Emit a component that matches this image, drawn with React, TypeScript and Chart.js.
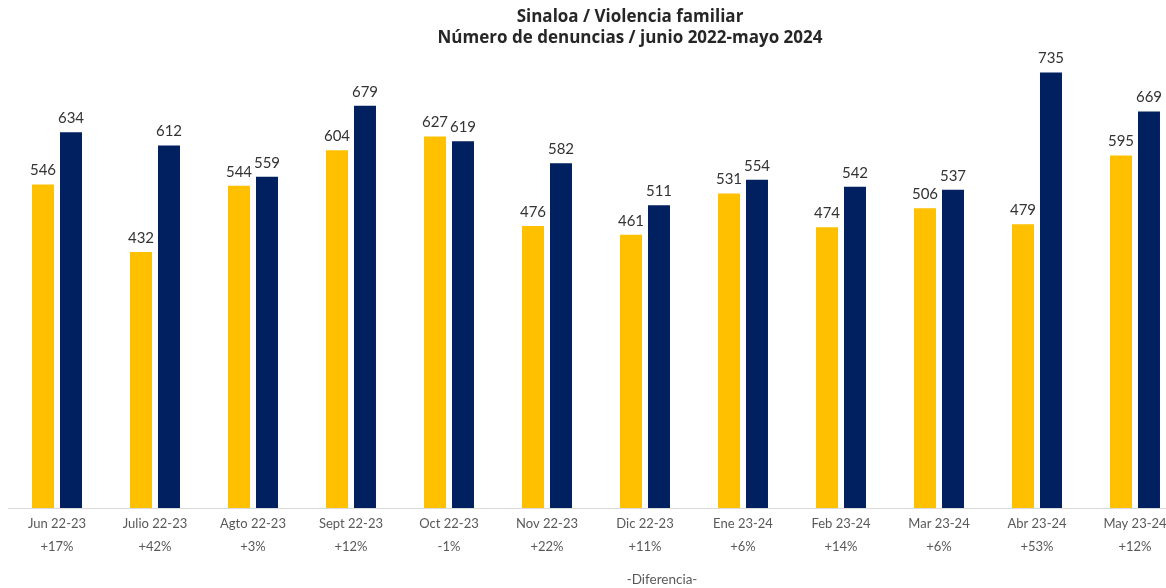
import React, { useEffect, useRef } from "react";
import { Chart, registerables } from "chart.js";

Chart.register(...registerables);

const categories = [
  "Jun 22-23", "Julio 22-23", "Agto 22-23", "Sept 22-23", "Oct 22-23", "Nov 22-23",
  "Dic 22-23", "Ene 23-24", "Feb 23-24", "Mar 23-24", "Abr 23-24", "May 23-24",
];
const series2223 = [546, 432, 544, 604, 627, 476, 461, 531, 474, 506, 479, 595];
const series2324 = [634, 612, 559, 679, 619, 582, 511, 554, 542, 537, 735, 669];
const differences = ["+17%", "+42%", "+3%", "+12%", "-1%", "+22%", "+11%", "+6%", "+14%", "+6%", "+53%", "+12%"];
const titleLines = ["Sinaloa / Violencia familiar", "Número de denuncias / junio 2022-mayo 2024"];
const footerText = "-Diferencia-";

const FONT = "Lato, 'Open Sans', sans-serif";

const textPlugin = {
  id: "textPlugin",
  afterDatasetsDraw(chart: any) {
    const ctx = chart.ctx;
    ctx.save();
    ctx.fillStyle = "#333333";
    ctx.font = `15px ${FONT}`;
    ctx.textAlign = "center";
    ctx.textBaseline = "middle";
    chart.data.datasets.forEach((ds: any, di: number) => {
      const meta = chart.getDatasetMeta(di);
      meta.data.forEach((bar: any, i: number) => {
        ctx.fillText(String(ds.data[i]), bar.x, bar.y - 14);
      });
    });
    ctx.fillStyle = "#262626";
    ctx.font = `bold 17px 'Open Sans', sans-serif`;
    ctx.fillText(titleLines[0], 630, 17);
    ctx.fillText(titleLines[1], 630, 38);
    ctx.fillStyle = "#595959";
    ctx.font = `13.5px ${FONT}`;
    ctx.fillText(footerText, 662, 580);
    ctx.restore();
  },
};

export default function App() {
  const ref = useRef<HTMLCanvasElement>(null);
  useEffect(() => {
    if (!ref.current) return;
    const chart = new Chart(ref.current, {
      type: "bar",
      data: {
        labels: categories.map((c, i) => [c, differences[i]]),
        datasets: [
          {
            label: "2022-23",
            data: series2223,
            backgroundColor: "#FFC000",
            barPercentage: 0.786,
            categoryPercentage: 0.571,
          },
          {
            label: "2023-24",
            data: series2324,
            backgroundColor: "#002060",
            barPercentage: 0.786,
            categoryPercentage: 0.571,
          },
        ],
      },
      options: {
        animation: false,
        responsive: false,
        maintainAspectRatio: false,
        layout: { padding: { top: 34, left: 8, right: 0, bottom: 0 } },
        plugins: {
          legend: { display: false },
          tooltip: { enabled: false },
          title: { display: false },
        },
        scales: {
          x: {
            grid: { drawOnChartArea: false, drawTicks: false },
            border: { display: true, color: "#d9d9d9", width: 1 },
            ticks: {
              padding: 4,
              color: "#595959",
              font: { family: FONT, size: 13, lineHeight: "23px" as any },
              maxRotation: 0,
              autoSkip: false,
            },
            afterFit: (scale: any) => {
              scale.height = 80;
            },
          },
          y: {
            display: false,
            min: 0,
            max: 800,
          },
        },
      },
      plugins: [textPlugin],
    });
    return () => chart.destroy();
  }, []);
  return (
    <div style={{ position: "absolute", left: 0, top: 0, width: 1166, height: 588, overflow: "hidden", background: "#fff" }}>
      <canvas ref={ref} width={1184} height={588} style={{ display: "block", width: 1184, height: 588 }} />
    </div>
  );
}
